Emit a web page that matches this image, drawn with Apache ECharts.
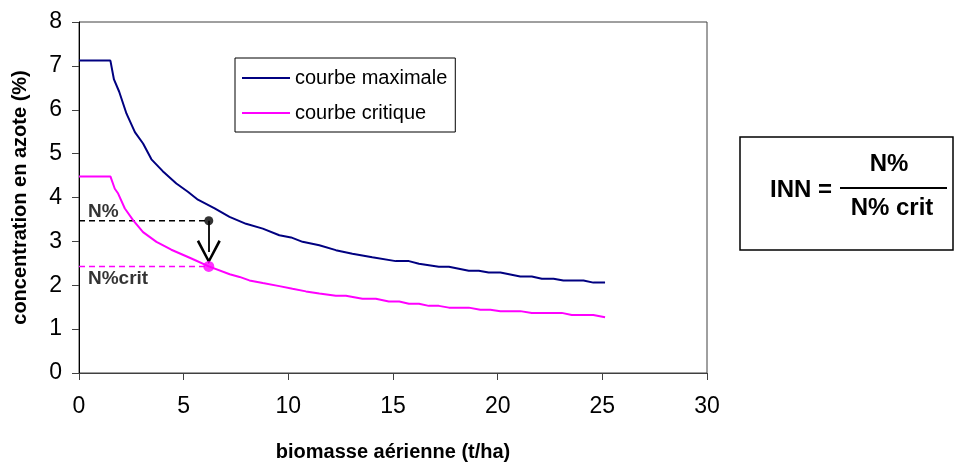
<!DOCTYPE html>
<html><head><meta charset="utf-8">
<script src="https://cdn.jsdelivr.net/npm/echarts@6/dist/echarts.min.js"></script>
<style>html,body{margin:0;padding:0;background:#fff}#c{width:956px;height:464px}</style>
</head><body><div id="c"></div>
<script>
// x values (t/ha) and N concentrations (%)
const maxX = [0, 1.5, 1.67, 1.92, 2.27, 2.67, 3.06, 3.46, 4.0, 4.65, 5.2, 5.68, 6.48, 7.19, 7.98, 8.78, 9.57, 10.13, 10.68, 11.48, 12.27, 13.06, 14.01, 15.13, 15.76, 16.24, 17.19, 17.67, 18.62, 19.1, 19.57, 20.13, 21.08, 21.63, 22.11, 22.67, 23.14, 24.1, 24.57, 25.13];
const maxY = [7.12, 7.12, 6.69, 6.41, 5.91, 5.49, 5.23, 4.87, 4.6, 4.32, 4.13, 3.95, 3.75, 3.56, 3.4, 3.29, 3.14, 3.09, 2.99, 2.91, 2.8, 2.72, 2.64, 2.55, 2.55, 2.49, 2.42, 2.42, 2.33, 2.33, 2.29, 2.29, 2.2, 2.2, 2.15, 2.15, 2.11, 2.11, 2.06, 2.06];
const critX = [0, 1.5, 1.71, 1.87, 2.19, 2.59, 3.06, 3.7, 4.41, 5.37, 6.2, 7.2, 7.67, 8.14, 8.78, 9.57, 10.2, 10.84, 11.48, 12.27, 12.75, 13.54, 14.18, 14.8, 15.3, 15.76, 16.24, 16.71, 17.19, 17.67, 18.62, 19.17, 19.65, 20.13, 21.08, 21.63, 23.06, 23.54, 24.57, 25.13];
const critY = [4.48, 4.48, 4.2, 4.09, 3.75, 3.48, 3.21, 2.99, 2.81, 2.61, 2.43, 2.25, 2.19, 2.11, 2.05, 1.98, 1.92, 1.86, 1.81, 1.76, 1.76, 1.69, 1.69, 1.63, 1.63, 1.58, 1.58, 1.53, 1.53, 1.49, 1.49, 1.44, 1.44, 1.41, 1.41, 1.37, 1.37, 1.32, 1.32, 1.27];
// example point
const exampleX = 6.2;
const exampleN = 3.47;
const exampleNcrit = 2.43;
const arrowEnd = 2.76;
const xTicks = {min: 0, max: 30, interval: 5};
const yTicks = {min: 0, max: 8, interval: 1};
const seriesNames = ['courbe maximale', 'courbe critique'];

const FONT = '"Liberation Sans", Arial, sans-serif';
const zip = (a, b) => a.map((v, i) => [v, b[i]]);
const arrowPath = 'path://M9,0 L18,15 L16.3,16 L9,3.4 L1.7,16 L0,15 Z';

const chart = echarts.init(document.getElementById('c'), null, {renderer: 'canvas'});
chart.setOption({
  animation: false,
  textStyle: {fontFamily: FONT},
  grid: {left: 79, right: 249, top: 22, bottom: 91, show: true, borderColor: '#404040', borderWidth: 1,
         containLabel: false, outerBoundsMode: 'none'},
  legend: {
    data: seriesNames, orient: 'vertical', left: 235, top: 58,
    padding: [10, 8, 9, 7], itemGap: 15, itemWidth: 48, itemHeight: 2, icon: 'rect',
    borderColor: '#000', borderWidth: 1, backgroundColor: '#fff',
    textStyle: {fontFamily: FONT, fontSize: 20, color: '#000', lineHeight: 20, padding: [0, 0, 0, 0]}
  },
  xAxis: {
    type: 'value', min: xTicks.min, max: xTicks.max, interval: xTicks.interval,
    name: 'biomasse aérienne (t/ha)', nameLocation: 'middle', nameGap: 69,
    nameTextStyle: {fontFamily: FONT, fontSize: 20, fontWeight: 'bold', color: '#000'},
    axisLine: {onZero: false, lineStyle: {color: '#404040', width: 1}},
    axisTick: {length: 7, lineStyle: {color: '#404040'}},
    axisLabel: {fontFamily: FONT, fontSize: 23, color: '#000', margin: 22},
    splitLine: {show: false}
  },
  yAxis: {
    type: 'value', min: yTicks.min, max: yTicks.max, interval: yTicks.interval,
    name: 'concentration en azote (%)', nameLocation: 'middle', nameGap: 49, nameRotate: 90,
    nameTextStyle: {fontFamily: FONT, fontSize: 20, fontWeight: 'bold', color: '#000'},
    axisLine: {show: true, lineStyle: {color: '#000', width: 1}},
    axisTick: {show: true, length: 7, lineStyle: {color: '#404040'}},
    axisLabel: {fontFamily: FONT, fontSize: 23, color: '#000', margin: 17},
    splitLine: {show: false}
  },
  series: [
    {name: seriesNames[0], type: 'line', data: zip(maxX, maxY), showSymbol: false, symbol: 'none',
     lineStyle: {color: '#000080', width: 2}, itemStyle: {color: '#000080'}, z: 3},
    {name: seriesNames[1], type: 'line', data: zip(critX, critY), showSymbol: false, symbol: 'none',
     lineStyle: {color: '#FF00FF', width: 2}, itemStyle: {color: '#FF00FF'}, z: 3},
    {name: 'N%', type: 'line', data: [[0, exampleN], [exampleX, exampleN]], symbol: 'none',
     lineStyle: {color: '#000', width: 1.5, type: [6, 4]}, z: 2},
    {name: 'N%crit', type: 'line', data: [[0, exampleNcrit], [exampleX, exampleNcrit]], symbol: 'none',
     lineStyle: {color: '#FF00FF', width: 1.5, type: [6, 4]}, z: 2},
    {name: 'arrow', type: 'lines', coordinateSystem: 'cartesian2d', z: 4,
     symbol: ['none', arrowPath], symbolSize: 24,
     lineStyle: {color: '#000', width: 1.8, opacity: 1},
     data: [{coords: [[exampleX, exampleN], [exampleX, arrowEnd]]}]},
    {name: 'pts', type: 'scatter', z: 5, symbolSize: 10,
     data: [
       {value: [exampleX, exampleN], symbolSize: 9, itemStyle: {color: '#000'}},
       {value: [exampleX, exampleNcrit], symbolSize: 11, itemStyle: {color: '#FF00FF'}}
     ]},
    {name: 'labels', type: 'scatter', z: 5, symbolSize: 0, silent: true,
     data: [
       {value: [0, exampleN], label: {show: true, formatter: 'N%', position: 'right', offset: [4, -9]}},
       {value: [0, exampleNcrit], label: {show: true, formatter: 'N%crit', position: 'right', offset: [4, 12]}}
     ],
     label: {fontFamily: FONT, fontSize: 19, fontWeight: 'bold', color: '#000'}}
  ],
  graphic: [
    {type: 'rect', shape: {x: 740, y: 137, width: 213, height: 113}, style: {fill: '#fff', stroke: '#000', lineWidth: 1.5}},
    {type: 'text', x: 770, y: 190, style: {text: 'INN =', font: 'bold 24px ' + FONT, fill: '#000', textVerticalAlign: 'middle', textAlign: 'left'}},
    {type: 'line', shape: {x1: 840, y1: 188, x2: 947, y2: 188}, style: {stroke: '#000', lineWidth: 2}},
    {type: 'text', x: 889, y: 164, style: {text: 'N%', font: 'bold 24px ' + FONT, fill: '#000', textVerticalAlign: 'middle', textAlign: 'center'}},
    {type: 'text', x: 892, y: 208, style: {text: 'N% crit', font: 'bold 24px ' + FONT, fill: '#000', textVerticalAlign: 'middle', textAlign: 'center'}}
  ]
});
</script></body></html>
